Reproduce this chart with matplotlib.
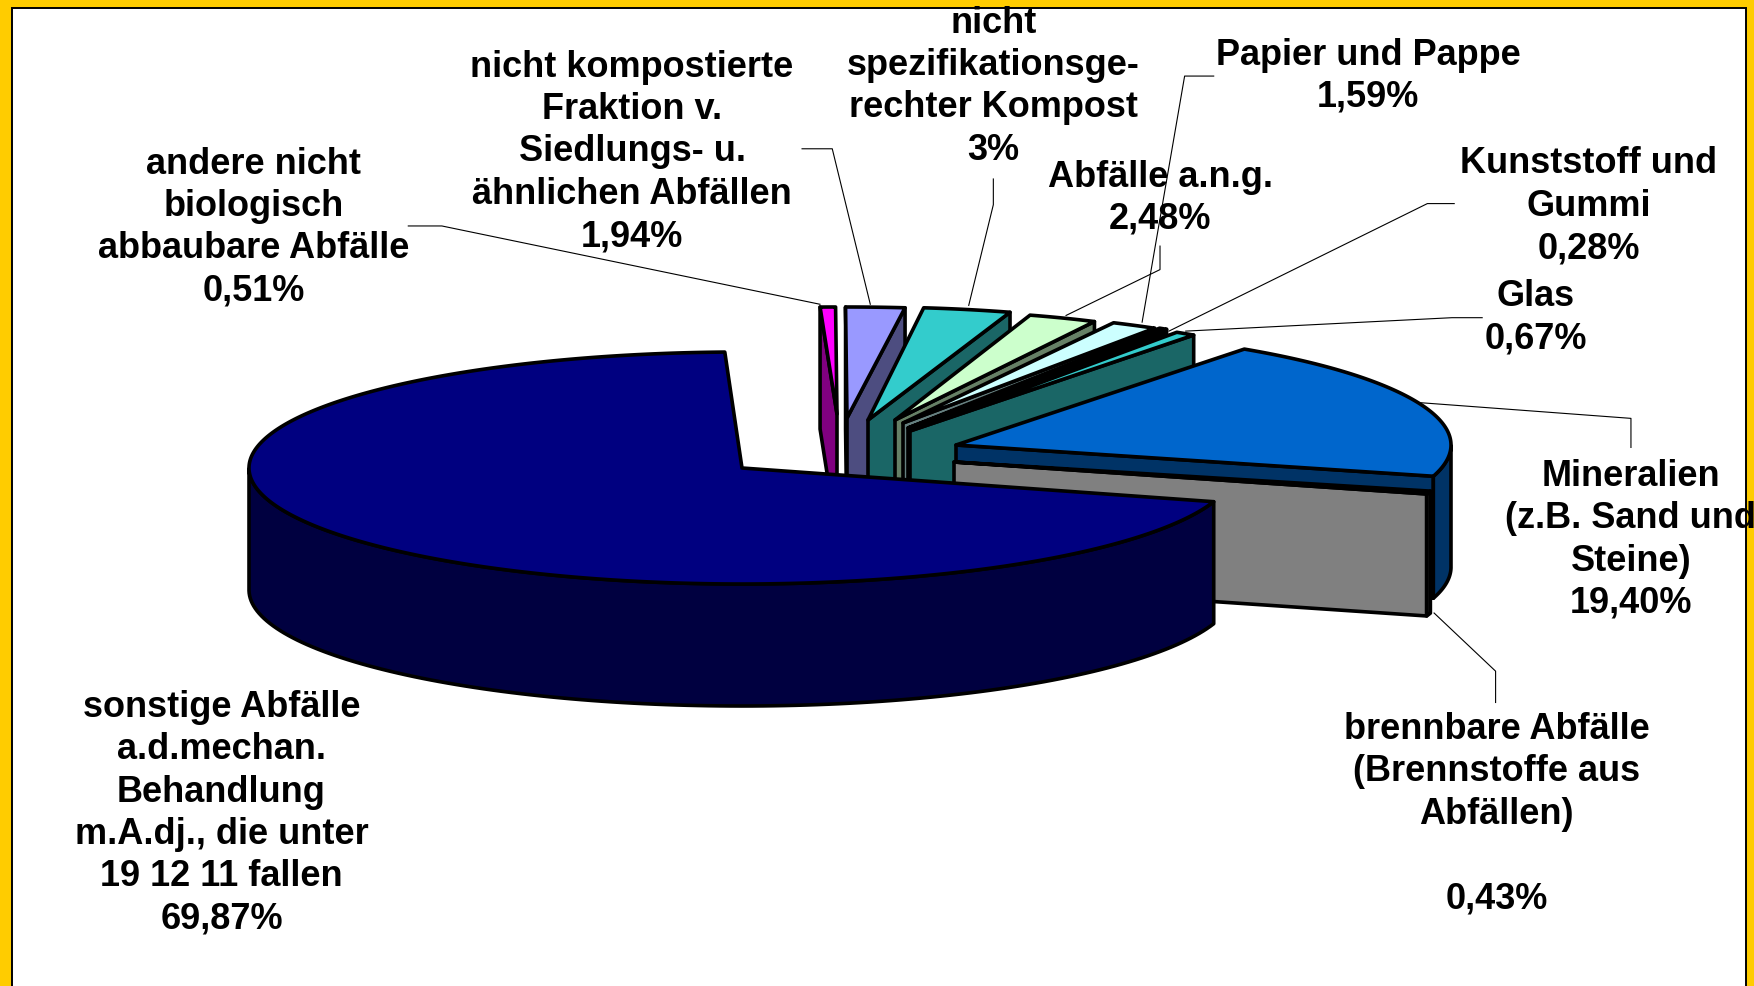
import numpy as np
import matplotlib
matplotlib.use("Agg")
import matplotlib.pyplot as plt
from matplotlib.patches import Polygon, Rectangle

plt.rcParams['font.family'] = ['Liberation Sans', 'DejaVu Sans']

# ---------- data (clockwise order, starting at the back of the pie) ----------
categories = [
    "andere nicht\nbiologisch\nabbaubare Abfälle",
    "nicht kompostierte\nFraktion v.\nSiedlungs- u.\nähnlichen Abfällen",
    "nicht\nspezifikationsge-\nrechter Kompost",
    "Abfälle a.n.g.",
    "Papier und Pappe",
    "Kunststoff und\nGummi",
    "Glas",
    "Mineralien\n(z.B. Sand und\nSteine)",
    "brennbare Abfälle\n(Brennstoffe aus\nAbfällen)\n",
    "sonstige Abfälle\na.d.mechan.\nBehandlung\nm.A.dj., die unter\n19 12 11 fallen",
]
values = [0.51, 1.94, 3.0, 2.48, 1.59, 0.28, 0.67, 19.40, 0.43, 69.87]
value_labels = ["0,51%", "1,94%", "3%", "2,48%", "1,59%", "0,28%", "0,67%", "19,40%", "0,43%", "69,87%"]

# ---------- styles ----------
top_colors = ["#FF00FF", "#9999FF", "#33CCCC", "#CCFFCC", "#CCFFFF", "#404040", "#33CCCC", "#0066CC", "#FFFFFF", "#000080"]
wall_colors = ["#800080", "#4D4D80", "#1A6666", "#668066", "#668080", "#000000", "#1A6666", "#003366", "#808080", "#000040"]

# layout of the exploded pie in pixels: apex x, apex y, radius x, radius y
apex_x = [837, 847, 868, 895, 903, 908, 910, 956, 954, 742]
apex_y = [414, 418, 420, 420, 423, 428, 431, 445, 462, 468]
rad_x = [485, 490, 470, 447, 472, 472, 487, 495, 494, 493]
rad_y = [107, 111, 113, 110, 112, 118, 118, 118, 110, 116]
DEPTH = 122
START_ANGLE = 92
EDGE_LW = 2.6

# label centres in pixels of the shrunk view (x, first line y)
label_x = [227, 565, 888, 1037, 1223, 1420, 1373, 1458, 1338, 198]
label_y0 = [146, 59, 20, 158, 49, 146, 265, 425, 651, 631]
SHRINK = 1754 / 1568
LINE_H = 38.4 * SHRINK

# leader lines in the same shrunk pixels
leaders = [
    [(365, 202), (395, 202), (733, 272)],
    [(717, 133), (744, 133), (778, 272)],
    [(888, 160), (888, 183), (866, 273)],
    [(1037, 220), (1037, 241), (953, 282)],
    [(1085, 68), (1059, 68), (1021, 288)],
    [(1300, 182), (1276, 182), (1045, 296)],
    [(1325, 284), (1298, 284), (1060, 296)],
    [(1458, 400), (1458, 374), (1270, 360)],
    [(1337, 628), (1337, 600), (1282, 548)],
]

fig = plt.figure(figsize=(17.54, 9.86), dpi=100, facecolor="#FFCC00")
ax = fig.add_axes([0, 0, 1, 1])
ax.set_xlim(0, 1754)
ax.set_ylim(986, 0)
ax.axis("off")

ax.add_patch(Rectangle((11.5, 8), 1734.5, 990, facecolor="white", edgecolor="black", lw=1.4, zorder=1))

fracs = np.array(values) / np.sum(values) * 360.0
ends = START_ANGLE - np.cumsum(fracs)
starts = ends + fracs


def pt(i, theta):
    t = np.radians(theta)
    return apex_x[i] + rad_x[i] * np.cos(t), apex_y[i] - rad_y[i] * np.sin(t)


def poly(points, color, z):
    ax.add_patch(Polygon(points, closed=True, facecolor=color, edgecolor="black",
                         lw=EDGE_LW, joinstyle="round", zorder=z))


z = 2.0
for i in range(len(values)):
    a0, a1 = starts[i], ends[i]   # a0 > a1, clockwise
    apex = (apex_x[i], apex_y[i])
    # radial walls that face the viewer
    if np.cos(np.radians(a0)) < 0:
        p = pt(i, a0)
        poly([p, apex, (apex[0], apex[1] + DEPTH), (p[0], p[1] + DEPTH)], wall_colors[i], z)
        z += 0.01
    if np.cos(np.radians(a1)) > 0:
        p = pt(i, a1)
        poly([p, apex, (apex[0], apex[1] + DEPTH), (p[0], p[1] + DEPTH)], wall_colors[i], z)
        z += 0.01
    # outer rim, only its front half
    lo, hi = a1, a0
    th = np.linspace(lo, hi, 200)
    front = np.sin(np.radians(th)) <= 0
    # main slice wraps round: keep the part between -180 and 0 only
    th = th[front & (th >= -180)]
    if th.size > 1:
        upper = [pt(i, t) for t in th]
        lower = [(x, y + DEPTH) for x, y in upper]
        poly(upper + lower[::-1], wall_colors[i], z)
        z += 0.01
    # top surface
    th = np.linspace(a0, a1, max(8, int(fracs[i] * 2)))
    poly([apex] + [pt(i, t) for t in th], top_colors[i], z)
    z += 0.01

for pts in leaders:
    xs, ys = zip(*[(px * SHRINK, py * SHRINK) for px, py in pts])
    ax.plot(xs, ys, color="black", lw=0.8, zorder=20)

for i, name in enumerate(categories):
    txt = name + "\n" + value_labels[i]
    n = txt.count("\n")
    yc = label_y0[i] * SHRINK + n * LINE_H / 2
    ax.text(label_x[i] * SHRINK, yc, txt, ha="center", va="center", multialignment="center",
            fontsize=26, fontweight="bold", color="black", linespacing=1.273, zorder=30)

fig.savefig("out.png", dpi=100, facecolor=fig.get_facecolor())
